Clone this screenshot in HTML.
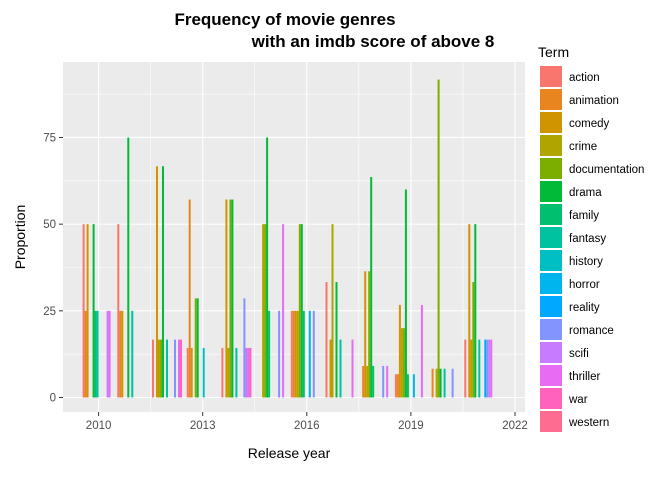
<!DOCTYPE html>
<html><head><meta charset="utf-8"><style>
body{margin:0;background:#fff;font-family:"Liberation Sans",Arial,sans-serif}
svg text{font-family:"Liberation Sans",Arial,sans-serif}
</style></head><body>
<svg id="chart" width="672" height="480" xmlns="http://www.w3.org/2000/svg">
<rect width="672" height="480" fill="#fff"/>
<text x="285" y="25" text-anchor="middle" font-size="17" font-weight="bold">Frequency of movie genres</text>
<text x="373" y="47" text-anchor="middle" font-size="17" font-weight="bold">with an imdb score of above 8</text>
<rect x="63" y="62" width="462" height="350" fill="#ebebeb"/>
<g id="grid"></g><g id="bars"></g><g id="axes"></g><g id="legend"></g>
<text x="289" y="458" text-anchor="middle" font-size="14">Release year</text>
<text transform="translate(25,237) rotate(-90)" text-anchor="middle" font-size="14">Proportion</text>
</svg>
<script>
const terms=["action","animation","comedy","crime","documentation","drama","family","fantasy","history","horror","reality","romance","scifi","thriller","war","western"];
const colors=["#F8766D","#E8851E","#D09400","#B0A500","#7CAE00","#00BA38","#00C06F","#00C1A0","#00BFC4","#00B5EE","#00A9FF","#8494FF","#C77CFF","#E76BF3","#FF62BC","#FF6C91"];
const years=[2010,2011,2012,2013,2014,2015,2016,2017,2018,2019,2020,2021];
const xTicks=[2010,2013,2016,2019,2022];
const yTicks=[0,25,50,75];
// values per year, per term index (0 = absent)
const values=[
[50,25,50,0,0,50,25,25,0,0,0,0,25,25,0,0],
[50,25,25,0,0,75,0,25,0,0,0,0,0,0,0,0],
[16.7,0,66.7,16.7,16.7,66.7,0,16.7,0,0,0,16.7,0,16.7,16.7,0],
[14.3,57.1,14.3,0,28.6,28.6,0,0,14.3,0,0,0,0,0,0,0],
[14.3,0,57.1,14.3,57.1,57.1,0,14.3,0,0,0,28.6,14.3,14.3,14.3,0],
[0,0,0,50,50,75,25,0,0,0,0,25,0,50,0,0],
[25,25,25,25,50,50,25,0,0,25,0,25,0,0,0,0],
[33.3,0,16.7,50,0,33.3,0,16.7,0,0,0,0,0,16.7,0,0],
[0,9.1,36.4,9.1,36.4,63.6,9.1,0,0,0,0,9.1,0,9.1,0,0],
[6.7,6.7,26.7,20,20,60,6.7,0,0,6.7,0,0,0,26.7,0,0],
[0,8.3,0,8.3,91.7,8.3,0,8.3,0,0,0,8.3,0,0,0,0],
[16.7,0,50,16.7,33.3,50,0,16.7,0,0,16.7,16.7,16.7,16.7,0,0]
];
const NS="http://www.w3.org/2000/svg";
const X=y=>98.6+(y-2010)*34.7;
const Y=v=>397.5-v*3.467;
function mk(tag,attrs,parent){const e=document.createElementNS(NS,tag);for(const k in attrs)e.setAttribute(k,attrs[k]);parent.appendChild(e);return e;}
const grid=document.getElementById('grid'),bars=document.getElementById('bars'),axes=document.getElementById('axes'),leg=document.getElementById('legend');
for(let v=-12.5;v<=100;v+=12.5){const yy=Y(v);if(yy<62||yy>412)continue;const major=v%25===0;
 const l=mk('line',{x1:63,x2:525,y1:yy,y2:yy,stroke:'#fff','stroke-width':major?1.1:0.55},grid);
 
 }
for(let v=2008.5;v<=2023;v+=1.5){const xx=X(v);if(xx<63||xx>525)continue;const major=(v-2010)%3===0;
 const l=mk('line',{x1:xx,x2:xx,y1:62,y2:412,stroke:'#fff','stroke-width':major?1.1:0.55},grid);
 
 }
const bw=2;
years.forEach((yr,i)=>{const start=X(yr)-16;values[i].forEach((v,j)=>{if(!v)return;
 const r=mk('rect',{x:start+j*bw,y:Y(v),width:bw,height:Y(0)-Y(v),fill:colors[j]},bars);
 
 });});
yTicks.forEach(t=>{const yy=Y(t);mk('line',{x1:59,x2:63,y1:yy,y2:yy,stroke:'#333'},axes);
 const tx=mk('text',{x:56,y:yy+4,'text-anchor':'end','font-size':11.5,fill:'#4d4d4d'},axes);tx.textContent=t;
 
 });
xTicks.forEach(t=>{const xx=X(t);mk('line',{x1:xx,x2:xx,y1:412,y2:416,stroke:'#333'},axes);
 const tx=mk('text',{x:xx,y:429,'text-anchor':'middle','font-size':11.5,fill:'#4d4d4d'},axes);tx.textContent=t;
 
 });
const lt=mk('text',{x:538,y:57,'font-size':14},leg);lt.textContent='Term';


terms.forEach((t,i)=>{const yy=66+i*23;
 const r=mk('rect',{x:540,y:yy,width:22,height:21,fill:colors[i]},leg);
 
 
 const tx=mk('text',{x:569,y:yy+15,'font-size':11.5},leg);tx.textContent=t;
 
 });
</script>
</body></html>
